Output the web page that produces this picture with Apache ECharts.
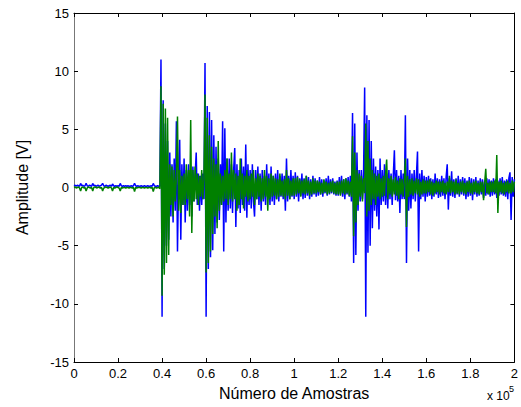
<!DOCTYPE html>
<html>
<head>
<meta charset="utf-8">
<script src="https://cdn.jsdelivr.net/npm/echarts@6/dist/echarts.min.js"></script>
<style>
html,body{margin:0;padding:0;background:#fff;}
#chart{width:521px;height:407px;}
</style>
</head>
<body>
<div id="chart"></div>
<script>
// sample spacing between successive readings (samples)
const sampleStep = 500;

const xTickLabels = ['0','0.2','0.4','0.6','0.8','1','1.2','1.4','1.6','1.8','2'];
const yTickLabels = ['-15','-10','-5','0','5','10','15'];

// blue signal, one reading every sampleStep samples (0 .. 200000)
const blueValues = [
  0.15,0.2,0.1,0.2,0.15,0.1,0.35,0.15,0.2,0.1,0.15,0.35,0.15,0.1,0.2,0.15,0.1,0.35,0.15,0.2,
  0.1,0.15,0.2,0.1,0.15,0.2,0.35,0.15,0.1,0.2,0.15,0.1,0.15,0.2,0.1,0.3,0.15,0.1,0.15,0.1,
  0.15,0.1,0.35,0.15,0.1,0.15,0.1,0.15,0.1,0.15,0.1,0.1,0.15,0.1,0.15,0.35,0.15,0.1,0.15,0.1,
  0.1,0.15,0.1,0.1,0.15,0.1,0.1,0.15,0.1,0.1,0.15,0.1,0.35,0.15,0.1,0.1,0.15,0.1,0.1,11.0,
  -11.1,7.5,-7.0,5.5,-5.0,4.0,-4.5,3.0,-2.5,2.0,-3.0,2.5,-2.0,5.7,-5.5,1.0,4.1,-4.5,2.0,-1.5,
  2.5,-3.0,1.5,-2.0,2.0,-1.5,1.5,-2.5,1.8,-1.2,1.0,3.0,-1.5,1.2,-2.0,1.0,-1.5,1.2,-1.0,10.7,
  -11.1,7.0,-7.0,6.5,-6.0,5.8,-5.4,4.5,-4.0,3.5,-3.0,2.5,-2.8,2.0,-1.5,5.7,-5.5,5.1,-3.0,2.5,
  -2.0,2.5,-1.8,2.0,-2.2,1.5,3.4,-3.4,2.0,-1.8,1.5,-2.2,2.5,-1.5,1.8,-2.0,3.7,-2.6,2.0,-1.5,
  1.5,-1.8,2.0,-1.2,-2.5,1.5,-1.0,1.8,-1.5,1.2,-2.0,1.5,-1.2,1.0,-1.5,2.0,-1.0,1.2,-1.5,1.8,
  -1.2,1.0,-1.5,1.2,-1.0,1.5,-1.2,1.0,-0.8,1.2,-1.0,1.0,-2.0,2.5,-1.2,1.0,-1.0,1.5,-0.8,1.0,
  -1.0,1.3,-0.8,1.0,-1.2,0.8,-0.7,1.2,-1.0,0.8,-0.9,1.0,-0.7,0.9,-1.0,0.7,-0.8,1.0,-0.6,0.8,
  -0.8,0.6,-0.7,0.9,-0.6,0.7,-0.8,0.6,-0.5,0.8,-0.7,1.0,-0.6,0.7,-0.5,0.8,-0.6,0.5,-0.7,0.6,
  -0.7,0.9,-0.6,1.0,-0.8,0.7,-1.0,0.8,-0.6,0.9,-0.8,1.0,-1.2,6.4,-6.5,5.5,-5.8,3.0,-2.0,1.5,
  -1.2,1.5,-1.0,1.2,8.6,-11.1,6.2,-5.6,5.8,-5.0,4.0,-3.5,2.5,-2.0,1.8,-2.5,1.5,-3.6,2.5,-1.5,
  1.5,-1.2,2.0,-1.5,1.2,-1.8,1.5,-1.0,1.2,-1.5,1.0,3.2,-1.1,1.5,-1.2,1.0,-2.2,1.5,-1.0,1.2,
  -1.0,6.2,-6.5,2.5,-2.0,1.5,-1.8,1.2,-1.0,1.5,-1.2,1.0,3.1,-5.5,1.2,-1.0,1.5,-0.8,1.0,-1.2,
  0.9,-0.8,1.0,-0.7,0.8,-1.0,0.7,-0.8,1.2,-0.6,0.8,-0.9,0.7,-0.8,1.0,-0.7,0.8,-1.0,0.9,2.0,
  -1.9,0.8,-0.7,1.4,-0.8,0.7,-0.9,0.8,-0.6,1.0,-0.8,0.7,-0.6,0.9,-0.7,0.8,-1.0,0.6,-0.8,0.9,
  -0.7,0.8,-1.1,0.7,-0.6,0.9,-0.8,0.6,-0.7,0.8,-0.6,0.7,-0.9,0.6,-0.7,0.8,-0.6,0.7,-0.8,0.6,
  -0.7,0.8,-0.6,0.7,-0.9,0.6,-0.7,0.8,-0.6,0.9,-0.7,0.6,-0.8,0.7,-1.0,0.8,1.3,-2.8,0.9,-0.8,0.7
];

// green signal, same sampling
const greenValues = [
  0.0,0.05,-0.05,0.0,0.05,-0.05,-0.3,0.0,0.05,-0.05,0.0,-0.3,-0.05,0.05,0.0,-0.05,0.0,-0.3,0.0,0.05,
  0.0,-0.05,0.05,0.0,-0.05,0.0,-0.3,-0.05,0.0,0.05,0.0,-0.05,0.0,0.05,-0.05,-0.3,0.0,-0.05,0.0,0.05,
  0.0,-0.05,-0.3,0.0,-0.05,0.0,0.0,-0.05,0.0,0.0,-0.05,0.0,0.0,-0.05,0.0,-0.35,0.0,-0.05,0.0,0.0,
  0.0,-0.05,0.0,0.0,-0.05,0.0,0.0,-0.05,0.0,0.0,-0.05,0.0,-0.35,0.0,0.0,-0.05,0.0,0.0,-0.1,8.7,
  -9.3,7.2,-7.5,6.8,-6.5,6.0,-5.8,2.0,-1.5,1.8,-2.5,1.5,-1.2,1.0,6.1,-2.0,1.5,-2.2,1.0,-1.5,
  1.2,-1.5,2.0,-1.0,1.5,-2.5,5.8,-3.9,1.5,-1.2,1.8,-1.0,1.2,-1.5,1.0,-0.8,1.5,-1.0,0.8,8.0,
  -7.3,6.0,-6.5,4.5,-5.5,3.5,-4.0,2.5,-2.5,2.0,-3.5,4.0,-2.0,1.2,-1.5,1.0,-1.2,1.5,-1.0,2.5,
  -1.5,1.2,-1.0,3.0,-1.2,1.5,-1.0,1.2,-2.0,1.0,-1.5,2.5,-1.0,1.2,-1.8,1.0,-0.8,1.5,-1.2,1.0,
  -1.0,1.2,-0.8,1.5,-1.5,0.8,-1.0,1.2,-0.8,1.0,-1.2,0.8,-1.0,1.5,-0.8,1.0,-2.0,0.8,-1.0,1.2,
  -0.8,1.0,-0.7,0.8,-1.0,0.7,-0.8,1.2,-0.7,0.6,-0.8,0.7,-1.0,1.5,-0.7,0.8,-1.0,0.6,-0.7,0.8,
  -0.7,0.8,-0.6,0.9,-0.5,0.7,-0.8,0.6,-0.5,0.7,-0.6,1.0,-0.5,0.6,-0.7,0.5,-0.6,0.8,-0.5,0.6,
  -0.5,0.6,-0.4,0.5,-0.6,0.4,-0.5,0.7,-0.4,0.5,-0.6,0.4,-0.5,0.5,-0.4,0.6,-0.5,0.4,-0.6,0.5,
  -0.6,0.5,-0.7,0.6,-0.5,0.7,-0.6,0.8,-0.5,0.6,-0.7,0.5,-0.8,4.4,-4.2,3.0,-3.0,1.5,-1.5,1.2,
  -0.8,1.0,-1.2,0.8,-0.5,5.5,-2.5,4.0,-2.0,2.5,-1.5,1.5,-1.0,1.2,-1.5,1.0,-0.8,1.2,-1.0,0.8,
  -0.8,1.0,-0.7,1.2,2.4,-1.0,0.8,-0.6,1.0,-0.8,0.7,-0.6,0.9,-0.7,0.6,-1.0,0.8,-0.6,0.7,-0.8,
  0.6,2.5,-3.4,1.0,-0.8,0.7,-0.6,0.8,-0.7,0.6,-0.5,0.8,-0.6,0.7,-0.8,0.5,-0.6,0.7,-0.5,0.6,
  -0.5,0.6,-0.4,0.7,-0.6,0.5,-0.7,0.4,-0.5,0.6,-0.4,0.5,-0.6,0.5,-0.4,0.6,-0.5,0.4,-0.6,0.5,
  -0.4,1.0,-0.5,0.6,-0.4,0.5,-0.6,0.7,-0.5,0.4,-0.6,0.5,-0.4,0.6,-0.5,0.4,-0.6,0.5,-0.4,0.6,
  -0.5,0.4,-0.6,0.5,-0.4,0.6,-0.5,0.4,-0.6,0.5,-0.4,0.5,-1.1,0.4,1.6,-0.5,0.4,-0.6,0.5,-0.4,
  0.5,-0.4,0.6,-0.5,2.8,-2.2,0.5,-0.4,0.6,-0.5,0.4,-0.6,0.5,-0.4,0.6,-0.5,0.4,-0.5,0.6,-0.4,0.5
];

const xMin = 0, xMax = 200000, xInterval = 20000;
const yMin = -15, yMax = 15, yInterval = 5;

const FONT = 'Arial, "Liberation Sans", Helvetica, sans-serif';

function toPairs(vals) {
  return vals.map((v, i) => [i * sampleStep, v]);
}

const chart = echarts.init(document.getElementById('chart'), null, {renderer: 'svg'});

const tickStyle = {inside: true, length: 4, lineStyle: {color: '#000', width: 1}};

chart.setOption({
  animation: false,
  backgroundColor: '#fff',
  textStyle: {fontFamily: FONT},
  grid: {left: 74, right: 4, top: 13, bottom: 45, containLabel: false},
  xAxis: [
    {
      type: 'value', min: xMin, max: xMax, interval: xInterval, position: 'bottom',
      axisLine: {onZero: false, lineStyle: {color: '#000', width: 1}},
      axisTick: tickStyle,
      splitLine: {show: false},
      axisLabel: {
        color: '#000', fontSize: 13, fontFamily: FONT, margin: 5,
        showMinLabel: true, showMaxLabel: true, hideOverlap: false,
        formatter: v => xTickLabels[Math.round((v - xMin) / xInterval)]
      },
      name: 'Número de Amostras', nameLocation: 'middle', nameGap: 23,
      nameTextStyle: {color: '#000', fontSize: 16, fontFamily: FONT}
    },
    {
      type: 'value', min: xMin, max: xMax, interval: xInterval, position: 'top',
      axisLine: {onZero: false, lineStyle: {color: '#000', width: 1}},
      axisTick: tickStyle, axisLabel: {show: false}, splitLine: {show: false}
    }
  ],
  yAxis: [
    {
      type: 'value', min: yMin, max: yMax, interval: yInterval, position: 'left',
      axisLine: {onZero: false, lineStyle: {color: '#777', width: 1}},
      axisTick: tickStyle,
      splitLine: {show: false},
      axisLabel: {
        color: '#000', fontSize: 13, fontFamily: FONT, margin: 5,
        showMinLabel: true, showMaxLabel: true, hideOverlap: false,
        formatter: v => yTickLabels[Math.round((v - yMin) / yInterval)]
      },
      name: 'Amplitude [V]', nameLocation: 'middle', nameGap: 44,
      nameTextStyle: {color: '#000', fontSize: 16, fontFamily: FONT}
    },
    {
      type: 'value', min: yMin, max: yMax, interval: yInterval, position: 'right',
      axisLine: {onZero: false, lineStyle: {color: '#000', width: 1}},
      axisTick: tickStyle, axisLabel: {show: false}, splitLine: {show: false}
    }
  ],
  graphic: [
    {type: 'text', left: 487, top: 390, silent: true,
     style: {text: 'x 10', font: '12px ' + FONT, fill: '#000'}},
    {type: 'text', left: 509, top: 384, silent: true,
     style: {text: '5', font: '9px ' + FONT, fill: '#000'}}
  ],
  series: [
    {
      name: 'blue', type: 'line', xAxisIndex: 0, yAxisIndex: 0,
      data: toPairs(blueValues), showSymbol: false, symbol: 'none',
      clip: true,
      lineStyle: {color: '#0000ff', width: 1.5}, itemStyle: {color: '#0000ff'},
      emphasis: {disabled: true}
    },
    {
      name: 'green', type: 'line', xAxisIndex: 0, yAxisIndex: 0,
      data: toPairs(greenValues), showSymbol: false, symbol: 'none',
      clip: true,
      lineStyle: {color: '#008000', width: 1.5}, itemStyle: {color: '#008000'},
      emphasis: {disabled: true}
    }
  ]
});
</script>
</body>
</html>
